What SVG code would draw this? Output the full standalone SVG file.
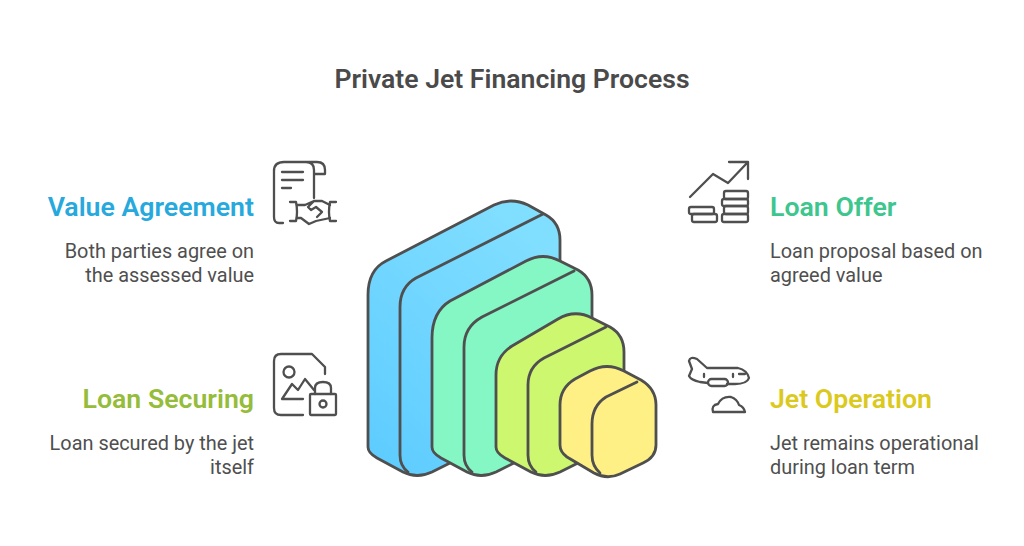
<svg xmlns="http://www.w3.org/2000/svg" width="1024" height="546" viewBox="0 0 1024 546">
<style>
text{font-family:Roboto,"Liberation Sans",sans-serif}
.t{font-size:26.6px;font-weight:600;fill:#4a4a4a;text-anchor:middle}
.h{font-size:26.7px;font-weight:600}
.d{font-size:19.9px;fill:#4f4f4f}
.e{text-anchor:end}
.o{fill:none;stroke:#4f4f4f;stroke-width:2.8;stroke-linecap:round;stroke-linejoin:round}
.i{fill:none;stroke:#4f4f4f;stroke-width:2.3;stroke-linecap:round;stroke-linejoin:round}
</style>
<defs>
<linearGradient id="b" x1="0" y1="1" x2="0.6" y2="0"><stop offset="0" stop-color="#5ccbff"/><stop offset="1" stop-color="#80deff"/></linearGradient>
</defs>
<rect width="1024" height="546" fill="#fff"/>
<text class="t" x="512" y="88">Private Jet Financing Process</text>
<g id="stack">
<g id="layer-blue">
<path class="o" style="fill:url(#b)" d="M368,447V295Q368,270 386,261L494,205Q511,197 528,205L546,215Q560,223 560,240V408L432,472Q417,479 403,472L377,458Q368,453 368,447Z"/>
<path class="o" d="M543,214L416,278Q400,287 400,307V455Q400,466 408,472"/>
</g>
<g id="layer-green">
<path class="o" style="fill:#84f7c4" d="M432,447V338Q432,312 450,301L526,261Q543,252 560,261L578,270Q592,278 592,295V424L496,472Q481,479 467,472L441,458Q432,453 432,447Z"/>
<path class="o" d="M574,271L482,317Q464,327 464,347V455Q464,466 472,472"/>
</g>
<g id="layer-lime">
<path class="o" style="fill:#ccf76f" d="M496,447V375Q496,356 512,346L558,319Q575,309 592,318L610,327Q624,335 624,352V440L560,472Q545,479 531,472L505,458Q496,453 496,447Z"/>
<path class="o" d="M606,327L544,358Q528,367 528,385V455Q528,466 536,472"/>
</g>
<g id="layer-yellow">
<path class="o" style="fill:#fff085" d="M560,445V405Q560,388 575,379L590,371Q607,362 624,371L641,380Q656,389 656,405V445Q656,457 643,463L620,474Q607,480 594,473L567,457Q560,452 560,445Z"/>
<path class="o" d="M637,382L606,397Q592,406 592,424V455Q592,466 600,473"/>
</g>
</g>
<g id="connectors"></g>
<g id="value-agreement">
<text class="h e" x="254" y="216" fill="#27a9dd">Value Agreement</text>
<text class="d e" x="254" y="258">Both parties agree on</text>
<text class="d e" x="254" y="282">the assessed value</text>
<path class="i" d="M283,223H279Q274,223 274,217V171Q274,162 284,162H317Q325,162 325,170V174H314V170Q314,162 306,162M314,170V198"/>
<path class="i" d="M282,172H303M282,180H303M282,188H291"/>
<path class="i" d="M290,202H296Q298,212 296,221H290M336,202H330Q328,212 330,221H336"/>
<path class="i" d="M297,205H305L314,201H322L330,205M297,218H301L309,224 316,221 330,218M314,201L308,207 311,210 316,207 322,212 317,217"/>
</g>
<g id="loan-securing">
<text class="h e" x="254" y="408" fill="#95bc3a">Loan Securing</text>
<text class="d e" x="254" y="450">Loan secured by the jet</text>
<text class="d e" x="254" y="474">itself</text>
<path class="i" d="M303,415H281Q274,415 274,408V361Q274,354 281,354H312L325,367V374"/>
<circle class="i" cx="289" cy="372" r="5.5"/>
<path class="i" d="M282,399L292,384 298,390 305,379 314,390M282,399H303"/>
<rect class="i" x="310" y="394" width="26" height="21" rx="1"/>
<path class="i" d="M315,394V388Q315,382 323,382Q331,382 331,388V394"/>
<circle class="i" cx="323" cy="404" r="3.5"/>
</g>
<g id="loan-offer">
<text class="h" x="770" y="216" fill="#3dc68d">Loan Offer</text>
<text class="d" x="770" y="258">Loan proposal based on</text>
<text class="d" x="770" y="282">agreed value</text>
<path class="i" d="M690,197L713,174 728,183 748,162M729,162H748V179"/>
<rect class="i" x="724" y="191" width="24" height="8" rx="2"/>
<rect class="i" x="722" y="199" width="26" height="7" rx="2"/>
<rect class="i" x="724" y="206" width="24" height="8" rx="2"/>
<rect class="i" x="722" y="214" width="26" height="8" rx="2"/>
<rect class="i" x="689" y="207" width="25" height="7" rx="2"/>
<rect class="i" x="692" y="214" width="25" height="8" rx="2"/>
</g>
<g id="jet-operation">
<text class="h" x="770" y="408" fill="#dcc91e">Jet Operation</text>
<text class="d" x="770" y="450">Jet remains operational</text>
<text class="d" x="770" y="474">during loan term</text>
<path class="i" d="M707,368H738Q747,370 749,378Q747,384 735,384H727M707,368L697,359Q690,356 689,361L692,369 689,376Q691,380 700,382L708,383"/>
<rect class="i" x="708" y="379" width="20" height="7" rx="3.5"/>
<path class="i" d="M704,374V377M733,374V377M739,374H745"/>
<path class="i" d="M713,412Q711,405 718,404Q722,396 731,397Q737,399 739,405Q744,407 745,412Z"/>
</g>
</svg>
